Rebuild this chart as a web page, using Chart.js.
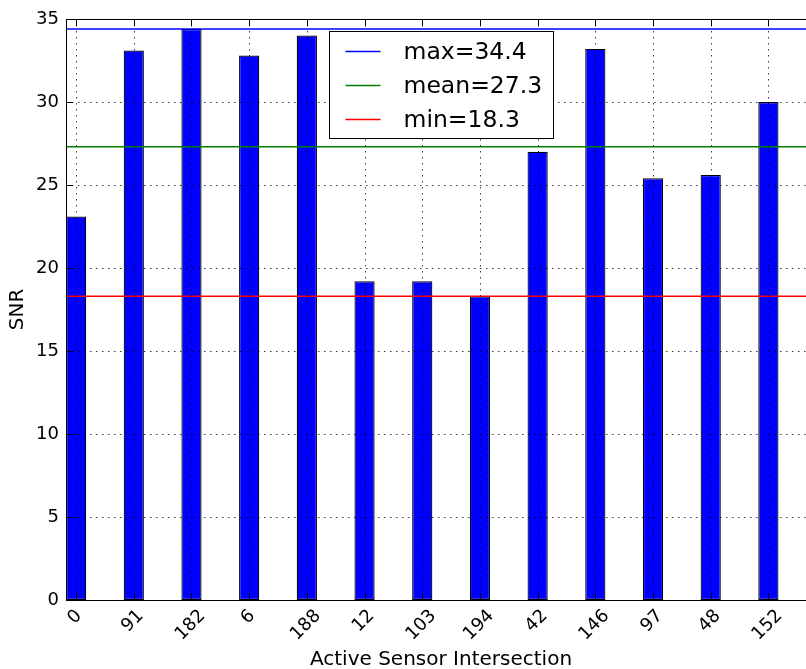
<!DOCTYPE html>
<html>
<head>
<meta charset="utf-8">
<script src="https://cdn.jsdelivr.net/npm/chart.js@4.4.1/dist/chart.umd.min.js"></script>
<style>
  html, body { margin: 0; padding: 0; background: #fff; overflow: hidden; }
  #wrap { width: 820px; height: 669px; }
  canvas { display: block; width: 820px; height: 669px; }
</style>
</head>
<body>
<div id="wrap"><canvas id="snrChart" width="820" height="669"></canvas></div>
<script>
// Data
const sensorLabels = ['0', '91', '182', '6', '188', '12', '103', '194', '42', '146', '97', '48', '152'];
const snrValues = [23.1, 33.1, 34.4, 32.8, 34.0, 19.2, 19.2, 18.3, 27.0, 33.2, 25.4, 25.6, 30.0];
const statNames = ['max', 'mean', 'min'];
const statValues = [34.4, 27.3, 18.3];
const statColors = ['#0000ff', '#008000', '#ff0000'];
const yTicks = [0, 5, 10, 15, 20, 25, 30, 35];

const BAR_WIDTH = 0.35;
const X_MIN = -BAR_WIDTH / 2;
const X_MAX = sensorLabels.length - BAR_WIDTH / 2;
const FONT = "'DejaVu Sans', sans-serif";

// matplotlib-ish decorations: dotted grid on top, frame, inward ticks, rotated labels, legend
const mplDecor = {
    id: 'mplDecor',
    afterDatasetsDraw(chart) {
        const { ctx, chartArea: a, scales: { x, y } } = chart;
        ctx.save();

        // grid
        ctx.strokeStyle = 'rgba(0,0,0,0.75)';
        ctx.lineWidth = 1;
        ctx.setLineDash([1.5, 4.5]);
        ctx.beginPath();
        yTicks.forEach(v => {
            const py = Math.round(y.getPixelForValue(v)) + 0.5;
            ctx.moveTo(a.left, py);
            ctx.lineTo(a.right, py);
        });
        sensorLabels.forEach((_, i) => {
            const px = Math.round(x.getPixelForValue(i)) + 0.5;
            ctx.moveTo(px, a.top);
            ctx.lineTo(px, a.bottom);
        });
        ctx.stroke();
        ctx.setLineDash([]);

        // frame
        ctx.strokeStyle = '#000';
        ctx.lineWidth = 1;
        ctx.strokeRect(a.left + 0.5, a.top + 0.5, a.right - a.left - 1, a.bottom - a.top);

        // inward ticks
        const tl = 7;
        ctx.beginPath();
        sensorLabels.forEach((_, i) => {
            const px = Math.round(x.getPixelForValue(i)) + 0.5;
            ctx.moveTo(px, a.top);
            ctx.lineTo(px, a.top + tl);
            ctx.moveTo(px, a.bottom);
            ctx.lineTo(px, a.bottom - tl);
        });
        yTicks.forEach(v => {
            const py = Math.round(y.getPixelForValue(v)) + 0.5;
            ctx.moveTo(a.left, py);
            ctx.lineTo(a.left + tl, py);
            ctx.moveTo(a.right, py);
            ctx.lineTo(a.right - tl, py);
        });
        ctx.stroke();

        // x tick labels, rotated 45, centred on the tick
        ctx.fillStyle = '#000';
        ctx.font = '18px ' + FONT;
        ctx.textAlign = 'center';
        ctx.textBaseline = 'middle';
        sensorLabels.forEach((lab, i) => {
            const px = x.getPixelForValue(i);
            const w = ctx.measureText(lab).width;
            const ext = (w + 18 * 0.95) * Math.SQRT1_2;
            ctx.save();
            ctx.translate(px - 1, a.bottom + 7 + ext / 2);
            ctx.rotate(-Math.PI / 4);
            ctx.fillText(lab, 0, 0);
            ctx.restore();
        });

        // x axis title
        ctx.font = '20px ' + FONT;
        ctx.textBaseline = 'alphabetic';
        ctx.fillText('Active Sensor Intersection', (a.left + a.right) / 2, 665);

        // legend
        const bw = 224, bh = 107;
        const bx = Math.round((a.left + a.right) / 2 - bw / 2) + 0.5;
        const by = a.top + 12.5;
        ctx.fillStyle = '#fff';
        ctx.fillRect(bx, by, bw, bh);
        ctx.strokeStyle = '#000';
        ctx.strokeRect(bx, by, bw, bh);
        ctx.font = '23.5px ' + FONT;
        ctx.textAlign = 'left';
        ctx.textBaseline = 'middle';
        statNames.forEach((name, i) => {
            const ly = by + 20 + i * 34;
            ctx.strokeStyle = statColors[i];
            ctx.lineWidth = 1.5;
            ctx.beginPath();
            ctx.moveTo(bx + 16, ly);
            ctx.lineTo(bx + 51, ly);
            ctx.stroke();
            ctx.fillStyle = '#000';
            ctx.fillText(chart.data.datasets[i].label, bx + 74, ly + 1);
        });

        ctx.restore();
    }
};

const lineSets = statNames.map((name, i) => ({
    type: 'line',
    label: `${name}=${statValues[i]}`,
    data: [{ x: X_MIN, y: statValues[i] }, { x: X_MAX, y: statValues[i] }],
    borderColor: statColors[i],
    borderWidth: 1.5,
    pointRadius: 0,
    order: 1
}));

const barSet = {
    type: 'bar',
    label: 'SNR',
    data: snrValues.map((v, i) => ({ x: i, y: v })),
    backgroundColor: '#0000ff',
    borderColor: '#000',
    borderWidth: 1.2,
    borderSkipped: false,
    barPercentage: BAR_WIDTH,
    categoryPercentage: 1,
    order: 2
};

const ctx = document.getElementById('snrChart').getContext('2d');
new Chart(ctx, {
    data: { datasets: [...lineSets, barSet] },
    options: {
        responsive: false,
        animation: false,
        layout: { padding: { top: 19, right: 4, bottom: 69, left: 0 } },
        plugins: { legend: { display: false }, tooltip: { enabled: false } },
        scales: {
            x: {
                type: 'linear',
                display: false,
                offset: false,
                min: X_MIN,
                max: X_MAX,
                afterBuildTicks: s => { s.ticks = sensorLabels.map((_, i) => ({ value: i })); }
            },
            y: {
                type: 'linear',
                min: 0,
                max: 35,
                afterBuildTicks: s => { s.ticks = yTicks.map(v => ({ value: v })); },
                afterFit: s => { s.width = 66; },
                grid: { display: false, drawTicks: false },
                border: { display: false },
                ticks: { color: '#000', padding: 7, font: { family: FONT, size: 18 } },
                title: {
                    display: true,
                    text: 'SNR',
                    color: '#000',
                    padding: { top: 6, bottom: 0 },
                    font: { family: FONT, size: 20 }
                }
            }
        }
    },
    plugins: [mplDecor]
});
</script>
</body>
</html>
